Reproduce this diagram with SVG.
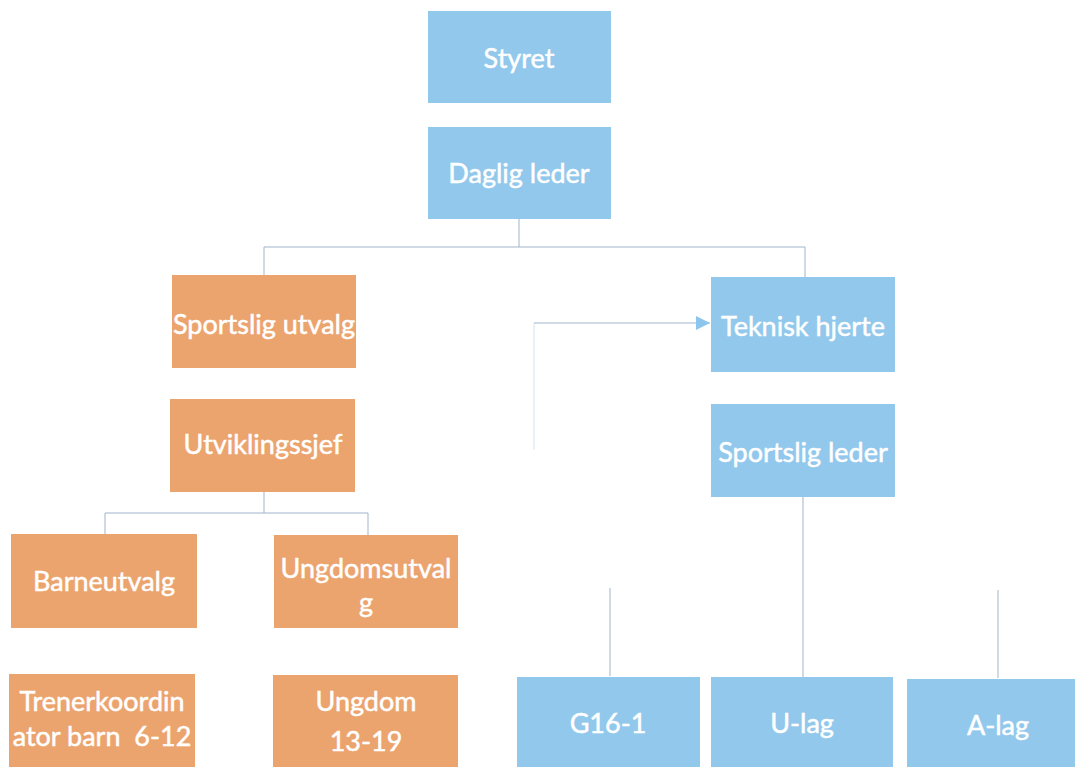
<svg xmlns="http://www.w3.org/2000/svg" width="1075" height="767" viewBox="0 0 1075 767">
<style>
.b{fill:#92c8ec}
.o{fill:#eca46e}
text{font-family:Lato,"Open Sans","Liberation Sans",sans-serif;font-size:27px;fill:#ffffff;stroke:#ffffff;stroke-width:0.5;text-anchor:middle;dominant-baseline:central;white-space:pre}
.c{stroke:#9fb5cc;stroke-width:1;fill:none}
.f{stroke:#d6e2ec;stroke-width:1;fill:none}
</style>
<defs>
<marker id="ah" viewBox="0 0 10 10" refX="10" refY="5" markerWidth="14" markerHeight="14" markerUnits="userSpaceOnUse" orient="auto">
<path d="M0,0 L10,5 L0,10 Z" fill="#8cc6ec"/>
</marker>
</defs>
<rect width="1075" height="767" fill="#ffffff"/>
<g id="connectors">
<path class="c" d="M519,219 V247 M264,247 H805 M264,247 V275 M805,247 V277"/>
<path class="c" d="M264,492 V513 M105,513 H368 M105,513 V534 M368,513 V535"/>
<path class="c" d="M803,497 V677"/>
<path class="c" d="M610,588 V676"/>
<path class="c" d="M998,590 V678"/>
<path class="f" d="M534,450 V323"/>
<path class="c" d="M534,323 H710" marker-end="url(#ah)"/>
</g>
<g id="n-styret"><rect class="b" x="428" y="11" width="183" height="92"/><text x="519" y="57">Styret</text></g>
<g id="n-daglig"><rect class="b" x="428" y="127" width="183" height="92"/><text x="519" y="172">Daglig leder</text></g>
<g id="n-sportslig-utvalg"><rect class="o" x="172" y="275" width="184" height="93"/><text x="264" y="323">Sportslig utvalg</text></g>
<g id="n-teknisk"><rect class="b" x="711" y="277" width="184" height="95"/><text x="803" y="325">Teknisk hjerte</text></g>
<g id="n-utvikling"><rect class="o" x="170" y="399" width="185" height="93"/><text x="263" y="443">Utviklingssjef</text></g>
<g id="n-sportslig-leder"><rect class="b" x="711" y="404" width="184" height="93"/><text x="803" y="451">Sportslig leder</text></g>
<g id="n-barne"><rect class="o" x="11" y="534" width="186" height="94"/><text x="104" y="580">Barneutvalg</text></g>
<g id="n-ungdomsutvalg"><rect class="o" x="274" y="535" width="184" height="93"/><text x="366" y="567">Ungdomsutval</text><text x="366" y="601">g</text></g>
<g id="n-trener"><rect class="o" x="9" y="674" width="186" height="93"/><text x="102" y="700">Trenerkoordin</text><text x="102" y="735">ator barn  6-12</text></g>
<g id="n-ungdom"><rect class="o" x="273" y="675" width="185" height="92"/><text x="366" y="700">Ungdom</text><text x="366" y="740">13-19</text></g>
<g id="n-g16"><rect class="b" x="517" y="677" width="183" height="90"/><text x="608" y="722">G16-1</text></g>
<g id="n-ulag"><rect class="b" x="711" y="677" width="182" height="90"/><text x="802" y="722">U-lag</text></g>
<g id="n-alag"><rect class="b" x="907" y="679" width="168" height="88"/><text x="998" y="724">A-lag</text></g>
</svg>
